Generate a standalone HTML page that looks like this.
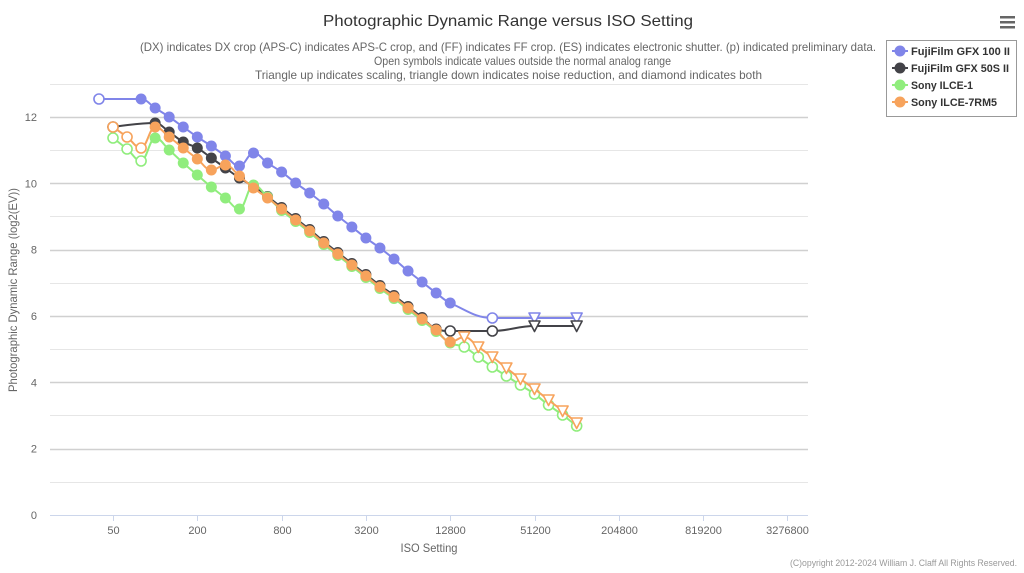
<!DOCTYPE html>
<html><head><meta charset="utf-8">
<style>
html,body{margin:0;padding:0;background:#fff;}
svg{display:block;font-family:"Liberation Sans",sans-serif;}
</style></head>
<body>
<svg id="c" width="1024" height="573" viewBox="0 0 1024 573" xmlns="http://www.w3.org/2000/svg">
<rect x="0" y="0" width="1024" height="573" fill="#fff"/>
<!-- gridlines -->
<g id="grid"></g>
<!-- axis -->
<line x1="50" y1="515.5" x2="808" y2="515.5" stroke="#ccd6eb" stroke-width="1"/>
<g id="ticks"></g>
<g id="series"></g>
<!-- titles -->
<text x="508" y="26" text-anchor="middle" font-size="16" fill="#333" textLength="370" lengthAdjust="spacingAndGlyphs">Photographic Dynamic Range versus ISO Setting</text>
<text x="508" y="51" text-anchor="middle" font-size="12" fill="#666" textLength="736" lengthAdjust="spacingAndGlyphs">(DX) indicates DX crop (APS-C) indicates APS-C crop, and (FF) indicates FF crop. (ES) indicates electronic shutter. (p) indicated preliminary data.</text>
<text x="522.5" y="65" text-anchor="middle" font-size="12" fill="#666" textLength="297" lengthAdjust="spacingAndGlyphs">Open symbols indicate values outside the normal analog range</text>
<text x="508.5" y="79" text-anchor="middle" font-size="12" fill="#666" textLength="507" lengthAdjust="spacingAndGlyphs">Triangle up indicates scaling, triangle down indicates noise reduction, and diamond indicates both</text>
<text x="429" y="552" text-anchor="middle" font-size="12" fill="#666" textLength="57" lengthAdjust="spacingAndGlyphs">ISO Setting</text>
<text transform="translate(17,290) rotate(-90)" text-anchor="middle" font-size="12" fill="#666" textLength="204" lengthAdjust="spacingAndGlyphs">Photographic Dynamic Range (log2(EV))</text>
<text x="1017" y="566" text-anchor="end" font-size="9" fill="#999" textLength="227" lengthAdjust="spacingAndGlyphs">(C)opyright 2012-2024 William J. Claff All Rights Reserved.</text>
<!-- hamburger -->
<rect x="1000" y="16" width="15" height="2.5" fill="#666"/>
<rect x="1000" y="21" width="15" height="2.5" fill="#666"/>
<rect x="1000" y="26" width="15" height="2.5" fill="#666"/>
<!-- legend -->
<rect x="886.5" y="40.5" width="130" height="76" fill="#fff" stroke="#999" stroke-width="1"/>
<g font-size="11" font-weight="bold" fill="#333">
<line x1="892" y1="51" x2="908" y2="51" stroke="#8085e9" stroke-width="2"/><circle cx="900" cy="51" r="5.5" fill="#8085e9"/>
<text x="911" y="55" textLength="99" lengthAdjust="spacingAndGlyphs">FujiFilm GFX 100 II</text>
<line x1="892" y1="68" x2="908" y2="68" stroke="#434348" stroke-width="2"/><circle cx="900" cy="68" r="5.5" fill="#434348"/>
<text x="911" y="72" textLength="98" lengthAdjust="spacingAndGlyphs">FujiFilm GFX 50S II</text>
<line x1="892" y1="85" x2="908" y2="85" stroke="#90ed7d" stroke-width="2"/><circle cx="900" cy="85" r="5.5" fill="#90ed7d"/>
<text x="911" y="89" textLength="62" lengthAdjust="spacingAndGlyphs">Sony ILCE-1</text>
<line x1="892" y1="102" x2="908" y2="102" stroke="#f7a35c" stroke-width="2"/><circle cx="900" cy="102" r="5.5" fill="#f7a35c"/>
<text x="911" y="106" textLength="86" lengthAdjust="spacingAndGlyphs">Sony ILCE-7RM5</text>
</g>
</svg>
<script>
(function(){
var NS="http://www.w3.org/2000/svg";
function el(tag,attrs,parent){var e=document.createElementNS(NS,tag);for(var k in attrs)e.setAttribute(k,attrs[k]);parent.appendChild(e);return e;}
var grid=document.getElementById('grid'),ticks=document.getElementById('ticks'),ser=document.getElementById('series');
function Y(v){return 515-33.17*v;}
function X(k){return 113+14.05*k;}
for(var v=1;v<=13;v++){
  var y=Math.round(Y(v))+0.5;
  el('line',{x1:50,x2:808,y1:y,y2:y,stroke:(v%2==0)?'#d0d0d0':'#e6e6e6','stroke-width':(v%2==0)?1.5:1},grid);
}
for(var v=0;v<=12;v+=2){
  var t=el('text',{x:37,y:Y(v)+4,'text-anchor':'end','font-size':11,fill:'#666'},grid);t.textContent=String(v);
}
var labs=['50','200','800','3200','12800','51200','204800','819200','3276800'];
for(var i=0;i<labs.length;i++){
  var x=Math.round(X(i*6))+0.5;
  el('line',{x1:x,x2:x,y1:515,y2:521,stroke:'#ccd6eb','stroke-width':1},ticks);
  var t=el('text',{x:x,y:534,'text-anchor':'middle','font-size':11,fill:'#666'},ticks);t.textContent=labs[i];
}
function spline(p){
  var d='M'+p[0][0]+' '+p[0][1],sm=1.5,den=2.5,prevR=null;
  for(var i=1;i<p.length;i++){
    var px=p[i][0],py=p[i][1],lx=p[i-1][0],ly=p[i-1][1],lcx,lcy,rcx,rcy;
    if(i<p.length-1){
      var nx=p[i+1][0],ny=p[i+1][1];
      lcx=(sm*px+lx)/den;lcy=(sm*py+ly)/den;rcx=(sm*px+nx)/den;rcy=(sm*py+ny)/den;
      var corr=0;
      if(rcx!==lcx)corr=((rcy-lcy)*(rcx-px))/(rcx-lcx)+py-rcy;
      lcy+=corr;rcy+=corr;
      if(lcy>ly&&lcy>py){lcy=Math.max(ly,py);rcy=2*py-lcy;}
      else if(lcy<ly&&lcy<py){lcy=Math.min(ly,py);rcy=2*py-lcy;}
      if(rcy>ny&&rcy>py){rcy=Math.max(ny,py);lcy=2*py-rcy;}
      else if(rcy<ny&&rcy<py){rcy=Math.min(ny,py);lcy=2*py-rcy;}
    }else{lcx=px;lcy=py;}
    var c1=prevR||[lx,ly];
    d+=' C'+c1[0]+' '+c1[1]+' '+lcx+' '+lcy+' '+px+' '+py;
    prevR=(i<p.length-1)?[rcx,rcy]:null;
  }
  return d;
}
function draw(data,color){
  var g=el('g',{},ser);
  var pts=data.map(function(d){return [X(d[0]),d[1]];});
  el('path',{d:spline(pts),fill:'none',stroke:color,'stroke-width':2,'stroke-linejoin':'round','stroke-linecap':'round'},g);
  data.forEach(function(d){
    var x=X(d[0]),y=d[1],t=d[2]||'f';
    if(t==='f')el('circle',{cx:x,cy:y,r:5.5,fill:color},g);
    else if(t==='o')el('circle',{cx:x,cy:y,r:5,fill:'#fff',stroke:color,'stroke-width':1.6},g);
    else el('path',{d:'M'+(x-5.5)+' '+(y-5)+' L'+(x+5.5)+' '+(y-5)+' L'+x+' '+(y+5.5)+' Z',fill:'#fff',stroke:color,'stroke-width':1.6,'stroke-linejoin':'round'},g);
  });
}
var blue=[[-1,99,'o'],[2,99],[3,108],[4,117],[5,127],[6,137],[7,146],[8,156],[9,166],[10,153],[11,163],[12,172],[13,183],[14,193],[15,204],[16,216],[17,227],[18,238],[19,248],[20,259],[21,271],[22,282],[23,293],[24,303],[27,318,'o'],[30,318,'t'],[33,318,'t']];
var orangeY={0:127,1:137,2:148,3:127,4:137,5:148,6:159,7:170,8:165,9:176,10:188,11:198,12:209,13:220,14:231,15:243,16:254,17:265,18:276,19:287,20:297,21:308,22:319,23:330,24:342};
var orange=[];
for(var k=0;k<=24;k++)orange.push([k,orangeY[k],k<3?'o':'f']);
[[25,337],[26,347],[27,357],[28,368],[29,379],[30,389],[31,400],[32,411],[33,423]].forEach(function(a){orange.push([a[0],a[1],'t']);});
var black=[[0,127,'o'],[3,123],[4,132],[5,142],[6,148],[7,158],[8,168],[9,178]];
for(var k=10;k<=22;k++)black.push([k,orangeY[k]-1.5]);
black.push([23,329]);black.push([24,331,'o']);black.push([27,331,'o']);black.push([30,326,'t']);black.push([33,326,'t']);
var green=[[0,138,'o'],[1,149,'o'],[2,161,'o'],[3,138],[4,150],[5,163],[6,175],[7,187],[8,198],[9,209],[10,185],[11,197]];
for(var k=12;k<=23;k++)green.push([k,orangeY[k]+1.5]);
green.push([24,343]);
[[25,347],[26,357],[27,367],[28,376],[29,385],[30,394],[31,405],[32,415],[33,426]].forEach(function(a){green.push([a[0],a[1],'o']);});
draw(blue,'#8085e9');
draw(black,'#434348');
draw(green,'#90ed7d');
draw(orange,'#f7a35c');
})();
</script>
</body></html>
